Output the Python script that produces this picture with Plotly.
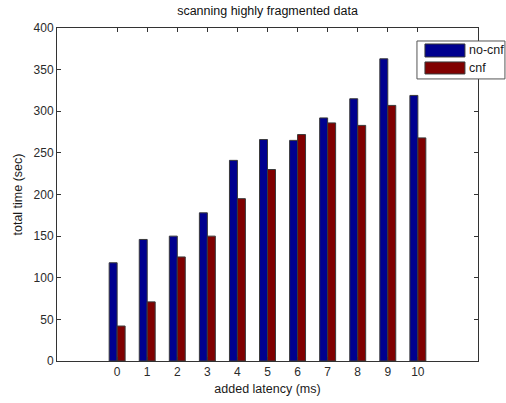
import plotly.graph_objects as go

latency = [0, 1, 2, 3, 4, 5, 6, 7, 8, 9, 10]
no_cnf = [118, 146, 150, 178, 241, 266, 265, 292, 315, 363, 319]
cnf = [42, 71, 125, 150, 195, 230, 272, 286, 283, 307, 268]
series_names = ["no-cnf", "cnf"]
series_colors = ["#00008F", "#800000"]
y_ticks = [0, 50, 100, 150, 200, 250, 300, 350, 400]

FAM = "Liberation Sans, Arial, sans-serif"
font = dict(family=FAM, size=12, color="#2a2a2a")

fig = go.Figure()
for name, vals, col in zip(series_names, [no_cnf, cnf], series_colors):
    fig.add_trace(go.Bar(x=latency, y=vals, name=name,
                         marker=dict(color=col, line=dict(color="#3a3a3a", width=1))))

# Matlab-style legend (long swatches) drawn in paper coordinates
shapes = [dict(type="rect", xref="paper", yref="paper", x0=0.855, x1=1.064,
               y0=0.847, y1=0.961, line=dict(color="#555", width=1),
               fillcolor="white", layer="above")]
annots = []
sw_y = [(0.913, 0.952), (0.862, 0.898)]
for (y0, y1), name, col in zip(sw_y, series_names, series_colors):
    shapes.append(dict(type="rect", xref="paper", yref="paper", x0=0.874, x1=0.969,
                       y0=y0, y1=y1, fillcolor=col, line=dict(color="#3a3a3a", width=1),
                       layer="above"))
    annots.append(dict(text=name, xref="paper", yref="paper", x=0.974, y=(y0 + y1) / 2,
                       xanchor="left", yanchor="middle", showarrow=False,
                       font=dict(family=FAM, size=12.5, color="#1a1a1a")))

fig.update_layout(
    width=506, height=403,
    margin=dict(l=57, r=28, t=28, b=42),
    paper_bgcolor="white", plot_bgcolor="white",
    font=font,
    barmode="group", bargap=0.47, bargroupgap=0,
    showlegend=False,
    title=dict(text="scanning highly fragmented data", x=(57 + 478) / 2 / 506,
               xanchor="center", xref="container",
               y=1, yref="container", yanchor="top", pad=dict(t=6),
               font=dict(family=FAM, size=12.5, color="#111")),
    shapes=shapes, annotations=annots,
    xaxis=dict(range=[-2, 12], tickmode="array", tickvals=latency,
               ticktext=[str(v) for v in latency], automargin=False,
               ticks="inside", ticklen=4, tickcolor="#333",
               showline=True, linecolor="#333", linewidth=1, mirror="ticks",
               showgrid=False, zeroline=False,
               title=dict(text="added latency (ms)", standoff=5,
                          font=dict(family=FAM, size=12.5, color="#1a1a1a"))),
    yaxis=dict(range=[0, 400], tickmode="array", tickvals=y_ticks, automargin=False,
               ticks="inside", ticklen=4, tickcolor="#333",
               showline=True, linecolor="#333", linewidth=1, mirror="ticks",
               showgrid=False, zeroline=False,
               title=dict(text="total time (sec)", standoff=8,
                          font=dict(family=FAM, size=12.5, color="#1a1a1a"))),
)

fig.write_html("out.html", config={"displayModeBar": False},
               post_script="document.body.style.margin='0';")
